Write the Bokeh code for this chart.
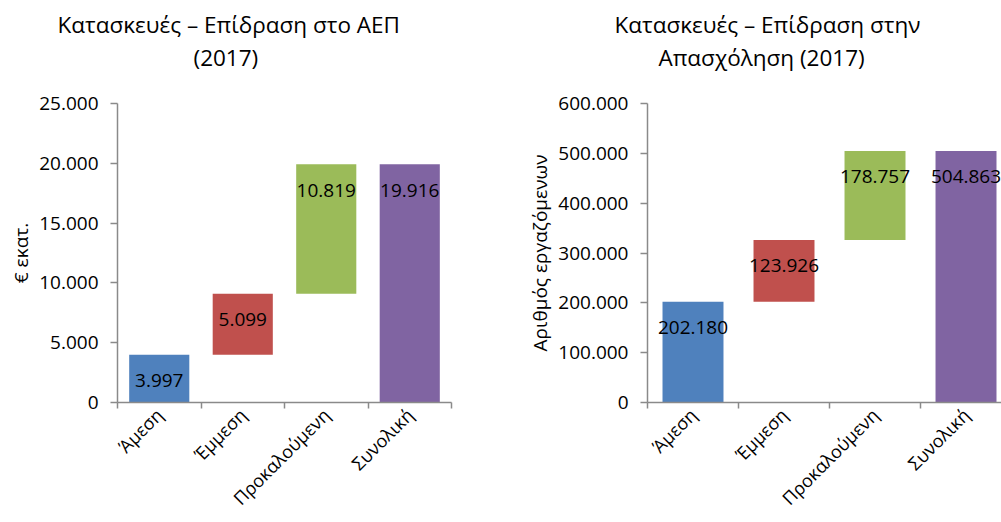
import math
from bokeh.plotting import figure
from bokeh.layouts import row
from bokeh.models import Range1d, FixedTicker, Title
from bokeh.core.properties import value
from bokeh.embed import file_html
from bokeh.resources import INLINE

# ---- data ----
categories = ["Άμεση", "Έμμεση", "Προκαλούμενη", "Συνολική"]
gdp_values = [3997, 5099, 10819, 19916]
emp_values = [202180, 123926, 178757, 504863]
gdp_ticks = [0, 5000, 10000, 15000, 20000, 25000]
emp_ticks = [0, 100000, 200000, 300000, 400000, 500000, 600000]
gdp_title = ["Κατασκευές – Επίδραση στο ΑΕΠ", "(2017)"]
emp_title = ["Κατασκευές – Επίδραση στην", "Απασχόληση (2017)"]
gdp_ylabel = "€ εκατ."
emp_ylabel = "Αριθμός εργαζόμενων"

# ---- style ----
COLORS = ["#4F81BD", "#C0504D", "#9BBB59", "#8064A2"]
FONT = "Open Sans"
AXIS_COLOR = "#8a8a8a"
TICK_FS = "19px"
XLAB_FS = "18px"
TITLE_FS = "22.5px"


def fmt(v):
    return f"{v:,}".replace(",", ".")


def waterfall(vals):
    bases, tops = [], []
    run = 0
    for i, v in enumerate(vals):
        if i == len(vals) - 1:
            bases.append(0)
            tops.append(v)
        else:
            bases.append(run)
            run += v
            tops.append(run)
    return bases, tops


def make_chart(vals, ticks, title_lines, ylabel, width, height, bl, br, bt, bb,
               xmax, bar_w, title_offsets):
    p = figure(width=width, height=height, output_backend="svg", toolbar_location=None,
               x_range=Range1d(0, xmax), y_range=Range1d(ticks[0], ticks[-1]),
               min_border_left=bl, min_border_right=br, min_border_top=bt,
               min_border_bottom=bb, title=None)
    p.outline_line_color = None
    p.grid.visible = False
    p.background_fill_color = "white"
    p.border_fill_color = "white"

    # spacer between plot and title block
    spacer = Title(text=" ", text_font=FONT, text_font_size="19.5px", standoff=2)
    t2 = Title(text=title_lines[1], align="left", offset=title_offsets[1],
               text_font=FONT, text_font_size=TITLE_FS, text_font_style="normal",
               text_color="black", standoff=0)
    t1 = Title(text=title_lines[0], align="left", offset=title_offsets[0],
               text_font=FONT, text_font_size=TITLE_FS, text_font_style="normal",
               text_color="black", standoff=0)
    p.add_layout(spacer, "above")
    p.add_layout(t2, "above")
    p.add_layout(t1, "above")

    xs = [i + 0.5 for i in range(len(vals))]
    bases, tops = waterfall(vals)
    p.vbar(x=xs, bottom=bases, top=tops, width=bar_w, fill_color=COLORS, line_color=None)
    p.text(x=xs, y=tops, text=[fmt(v) for v in vals], text_align="center",
           text_baseline="middle", y_offset=26, text_font=value(FONT),
           text_font_size=TICK_FS, text_color="black")

    ya = p.yaxis[0]
    ya.ticker = FixedTicker(ticks=ticks, minor_ticks=[])
    ya.major_label_overrides = {t: fmt(t) for t in ticks}
    ya.axis_line_color = AXIS_COLOR
    ya.axis_line_width = 1.5
    ya.major_tick_line_color = AXIS_COLOR
    ya.major_tick_line_width = 1.5
    ya.major_tick_out = 7
    ya.major_tick_in = 0
    ya.major_label_standoff = 12
    ya.major_label_text_font = FONT
    ya.major_label_text_font_size = TICK_FS
    ya.major_label_text_color = "black"
    ya.axis_label = ylabel
    ya.axis_label_text_font = FONT
    ya.axis_label_text_font_size = TICK_FS
    ya.axis_label_text_font_style = "normal"
    ya.axis_label_text_color = "black"
    ya.axis_label_standoff = 2

    xa = p.xaxis[0]
    xa.ticker = FixedTicker(ticks=xs, minor_ticks=list(range(len(vals) + 1)))
    xa.major_label_overrides = {x: c for x, c in zip(xs, categories)}
    xa.axis_line_color = AXIS_COLOR
    xa.axis_line_width = 1.5
    xa.major_tick_line_color = None
    xa.minor_tick_line_color = AXIS_COLOR
    xa.minor_tick_line_width = 1.5
    xa.minor_tick_out = 6
    xa.minor_tick_in = 0
    xa.major_label_orientation = math.pi / 4
    xa.major_label_standoff = 3
    xa.major_label_text_font = FONT
    xa.major_label_text_font_size = XLAB_FS
    xa.major_label_text_color = "black"
    return p


p1 = make_chart(gdp_values, gdp_ticks, gdp_title, gdp_ylabel,
                width=500, height=522, bl=117, br=49, bt=103, bb=118,
                xmax=4, bar_w=0.72, title_offsets=(-60, 76))
p2 = make_chart(emp_values, emp_ticks, emp_title, emp_ylabel,
                width=501, height=522, bl=147, br=0, bt=102, bb=120,
                xmax=3.89, bar_w=0.67, title_offsets=(-33, 11))

layout = row(p1, p2)
open("out.html", "w").write(file_html(layout, INLINE))
